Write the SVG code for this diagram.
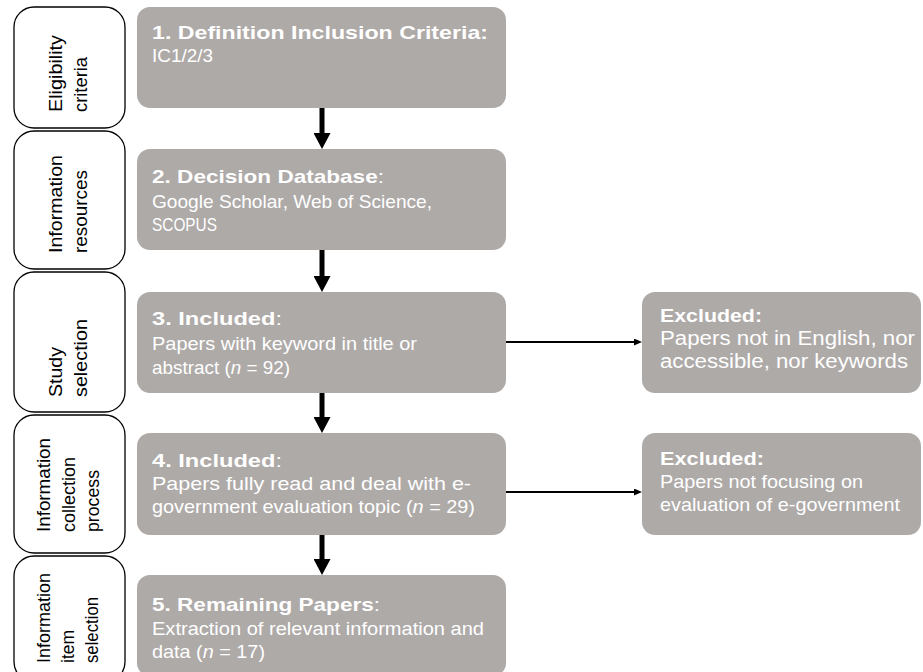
<svg xmlns="http://www.w3.org/2000/svg" width="923" height="672" viewBox="0 0 923 672">
  <style>
    .stage { fill: #ffffff; stroke: #000000; stroke-width: 1.3; }
    .step { fill: #aeaaa8; }
    .lbl { font-family: "Liberation Sans", Arial, Helvetica, sans-serif; fill: #000000; font-size: 19px; }
    .txt { font-family: "Liberation Sans", Arial, Helvetica, sans-serif; fill: #ffffff; font-size: 18.5px; }
    .hd { font-weight: bold; }
    .it { font-style: italic; }
    .flow { stroke: #000000; stroke-width: 5; fill: none; }
    .side { stroke: #000000; stroke-width: 2; fill: none; }
  </style>
  <defs>
    <marker id="headBig" viewBox="0 0 16 17" refX="2" refY="8.5" markerWidth="16" markerHeight="17" markerUnits="userSpaceOnUse" orient="auto">
      <path d="M0,0 L16,8.5 L0,17 Z" fill="#000000"/>
    </marker>
    <marker id="headSmall" viewBox="0 0 8 7" refX="1" refY="3.5" markerWidth="8" markerHeight="7" markerUnits="userSpaceOnUse" orient="auto">
      <path d="M0,0 L8,3.5 L0,7 Z" fill="#000000"/>
    </marker>
  </defs>

  <!-- stage labels down the left side -->
  <g id="stage-eligibility">
    <rect class="stage" x="14" y="7" width="111" height="121" rx="20"/>
    <text class="lbl" transform="translate(62,112) rotate(-90)" textLength="77" lengthAdjust="spacingAndGlyphs">Eligibility</text>
    <text class="lbl" transform="translate(87,112) rotate(-90)" textLength="55" lengthAdjust="spacingAndGlyphs">criteria</text>
  </g>
  <g id="stage-resources">
    <rect class="stage" x="14" y="131" width="111" height="138" rx="20"/>
    <text class="lbl" transform="translate(62,253) rotate(-90)" textLength="98" lengthAdjust="spacingAndGlyphs">Information</text>
    <text class="lbl" transform="translate(87,253) rotate(-90)" textLength="83" lengthAdjust="spacingAndGlyphs">resources</text>
  </g>
  <g id="stage-study">
    <rect class="stage" x="14" y="272" width="111" height="140" rx="20"/>
    <text class="lbl" transform="translate(62,397) rotate(-90)" textLength="50" lengthAdjust="spacingAndGlyphs">Study</text>
    <text class="lbl" transform="translate(87,397) rotate(-90)" textLength="78" lengthAdjust="spacingAndGlyphs">selection</text>
  </g>
  <g id="stage-collection">
    <rect class="stage" x="14" y="415" width="111" height="138" rx="20"/>
    <text class="lbl" transform="translate(50,532) rotate(-90)" textLength="94" lengthAdjust="spacingAndGlyphs">Information</text>
    <text class="lbl" transform="translate(75,532) rotate(-90)" textLength="75" lengthAdjust="spacingAndGlyphs">collection</text>
    <text class="lbl" transform="translate(99,532) rotate(-90)" textLength="62" lengthAdjust="spacingAndGlyphs">process</text>
  </g>
  <g id="stage-item">
    <rect class="stage" x="14" y="556" width="111" height="126" rx="20"/>
    <text class="lbl" style="font-size:17.5px" transform="translate(50,663) rotate(-90)" textLength="90" lengthAdjust="spacingAndGlyphs">Information</text>
    <text class="lbl" style="font-size:17.5px" transform="translate(74,663) rotate(-90)" textLength="33" lengthAdjust="spacingAndGlyphs">item</text>
    <text class="lbl" style="font-size:17.5px" transform="translate(98,663) rotate(-90)" textLength="66" lengthAdjust="spacingAndGlyphs">selection</text>
  </g>

  <!-- process steps -->
  <g id="step-1">
    <rect class="step" x="137" y="7" width="369" height="101" rx="13"/>
    <text class="txt hd" x="152" y="39" textLength="336" lengthAdjust="spacingAndGlyphs">1. Definition Inclusion Criteria:</text>
    <text class="txt" x="152" y="62" textLength="61" lengthAdjust="spacingAndGlyphs">IC1/2/3</text>
  </g>
  <g id="step-2">
    <rect class="step" x="137" y="149" width="369" height="101" rx="13"/>
    <text class="txt" x="152" y="183" textLength="232" lengthAdjust="spacingAndGlyphs"><tspan class="hd">2. Decision Database</tspan>:</text>
    <text class="txt" x="152" y="208" textLength="280" lengthAdjust="spacingAndGlyphs">Google Scholar, Web of Science,</text>
    <text class="txt" x="152" y="231" textLength="65" lengthAdjust="spacingAndGlyphs">SCOPUS</text>
  </g>
  <g id="step-3">
    <rect class="step" x="137" y="292" width="369" height="101" rx="13"/>
    <text class="txt" x="152" y="325" textLength="130" lengthAdjust="spacingAndGlyphs"><tspan class="hd">3. Included</tspan>:</text>
    <text class="txt" x="152" y="350" textLength="265" lengthAdjust="spacingAndGlyphs">Papers with keyword in title or</text>
    <text class="txt" x="152" y="374" textLength="138" lengthAdjust="spacingAndGlyphs">abstract (<tspan class="it">n</tspan> = 92)</text>
  </g>
  <g id="step-4">
    <rect class="step" x="137" y="433" width="369" height="102" rx="13"/>
    <text class="txt" x="152" y="467" textLength="130" lengthAdjust="spacingAndGlyphs"><tspan class="hd">4. Included</tspan>:</text>
    <text class="txt" x="152" y="490" textLength="319" lengthAdjust="spacingAndGlyphs">Papers fully read and deal with e-</text>
    <text class="txt" x="152" y="513" textLength="323" lengthAdjust="spacingAndGlyphs">government evaluation topic (<tspan class="it">n</tspan> = 29)</text>
  </g>
  <g id="step-5">
    <rect class="step" x="137" y="575" width="369" height="101" rx="13"/>
    <text class="txt" x="152" y="611" textLength="228" lengthAdjust="spacingAndGlyphs"><tspan class="hd">5. Remaining Papers</tspan>:</text>
    <text class="txt" x="152" y="635" textLength="332" lengthAdjust="spacingAndGlyphs">Extraction of relevant information and</text>
    <text class="txt" x="152" y="658" textLength="113" lengthAdjust="spacingAndGlyphs">data (<tspan class="it">n</tspan> = 17)</text>
  </g>

  <!-- exclusions -->
  <g id="excluded-1">
    <rect class="step" x="642" y="292" width="279" height="101" rx="13"/>
    <text class="txt hd" x="660" y="322" textLength="102" lengthAdjust="spacingAndGlyphs">Excluded:</text>
    <text class="txt" style="font-size:20px" x="660" y="345" textLength="255" lengthAdjust="spacingAndGlyphs">Papers not in English, nor</text>
    <text class="txt" style="font-size:20px" x="660" y="368" textLength="248" lengthAdjust="spacingAndGlyphs">accessible, nor keywords</text>
  </g>
  <g id="excluded-2">
    <rect class="step" x="642" y="433" width="279" height="102" rx="13"/>
    <text class="txt hd" x="660" y="465" textLength="104" lengthAdjust="spacingAndGlyphs">Excluded:</text>
    <text class="txt" x="660" y="488" textLength="203" lengthAdjust="spacingAndGlyphs">Papers not focusing on</text>
    <text class="txt" x="660" y="511" textLength="240" lengthAdjust="spacingAndGlyphs">evaluation of e-government</text>
  </g>

  <!-- connectors -->
  <g id="connectors">
    <line class="flow" x1="322" y1="108" x2="322" y2="135" marker-end="url(#headBig)"/>
    <line class="flow" x1="322" y1="250" x2="322" y2="278" marker-end="url(#headBig)"/>
    <line class="flow" x1="322" y1="393" x2="322" y2="419" marker-end="url(#headBig)"/>
    <line class="flow" x1="322" y1="535" x2="322" y2="561" marker-end="url(#headBig)"/>
    <line class="side" x1="506" y1="342" x2="635" y2="342" marker-end="url(#headSmall)"/>
    <line class="side" x1="506" y1="492" x2="635" y2="492" marker-end="url(#headSmall)"/>
  </g>
</svg>
